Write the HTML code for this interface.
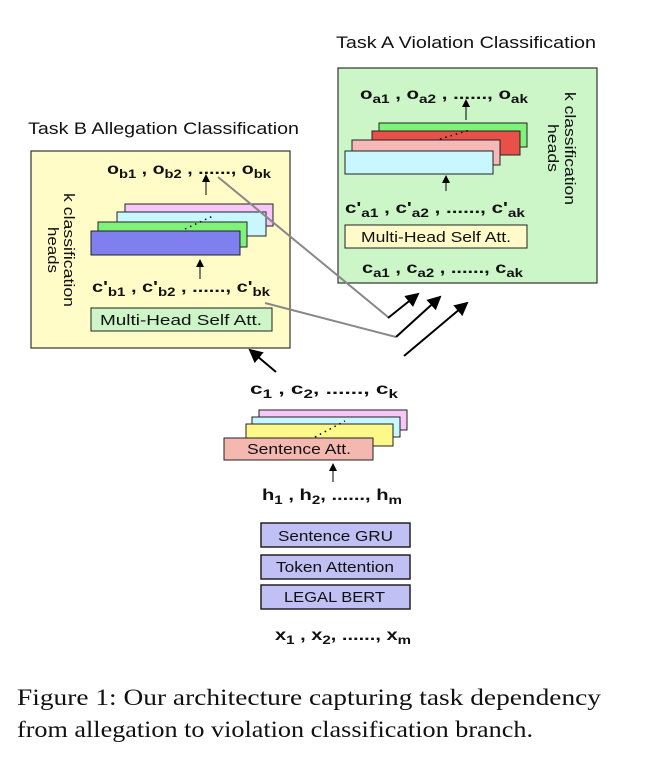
<!DOCTYPE html>
<html><head><meta charset="utf-8"><style>
html,body{margin:0;padding:0;background:#fff;}
svg{display:block;}
text{font-family:"Liberation Sans",sans-serif;fill:#111;}
.b{font-weight:bold;font-size:16px;}
.s{font-size:12px;font-weight:bold;}
.n{font-size:15px;}
.cap{font-family:"Liberation Serif",serif;font-size:23px;}
</style></head><body>
<svg width="652" height="774" viewBox="0 0 652 774" xmlns="http://www.w3.org/2000/svg">
<defs>
<marker id="ah" markerWidth="8" markerHeight="8" refX="6" refY="4" orient="auto" markerUnits="userSpaceOnUse"><path d="M0,0 L8,4 L0,8 z" fill="#000"/></marker>
<marker id="ahb" markerWidth="14" markerHeight="14" refX="12" refY="7" orient="auto" markerUnits="userSpaceOnUse"><path d="M0,0 L14,7 L0,14 z" fill="#000"/></marker>
</defs>

<text x="336" y="48" font-size="17" textLength="260" lengthAdjust="spacingAndGlyphs">Task A Violation Classification</text>
<text x="28" y="134" font-size="17" textLength="271" lengthAdjust="spacingAndGlyphs">Task B Allegation Classification</text>

<!-- Task A box -->
<rect x="338" y="68" width="259" height="215" fill="#ccf5c8" stroke="#333" stroke-width="1.2"/>
<text x="360" y="99" class="b" textLength="168" lengthAdjust="spacingAndGlyphs">o<tspan class="s" dy="4">a1</tspan><tspan dy="-4"> , o</tspan><tspan class="s" dy="4">a2</tspan><tspan dy="-4"> , ......, o</tspan><tspan class="s" dy="4">ak</tspan></text>
<rect x="379" y="123" width="148" height="24" fill="#7ff27a" stroke="#222"/>
<rect x="372" y="131" width="148" height="24" fill="#e85048" stroke="#222"/>
<rect x="352" y="140" width="148" height="25" fill="#f7b8b8" stroke="#222"/>
<rect x="345" y="151" width="148" height="23" fill="#c8f7ff" stroke="#222"/>
<line x1="440" y1="139" x2="470" y2="130" stroke="#000" stroke-width="1.5" stroke-dasharray="1.5,4"/>
<line x1="466" y1="120" x2="466" y2="101" stroke="#000" marker-end="url(#ah)"/>
<line x1="446" y1="191" x2="446" y2="177" stroke="#000" marker-end="url(#ah)"/>
<text x="345" y="213" class="b" textLength="180" lengthAdjust="spacingAndGlyphs">c'<tspan class="s" dy="4">a1</tspan><tspan dy="-4"> , c'</tspan><tspan class="s" dy="4">a2</tspan><tspan dy="-4"> , ......, c'</tspan><tspan class="s" dy="4">ak</tspan></text>
<rect x="345" y="225" width="182" height="23" fill="#fffbc8" stroke="#222"/>
<text x="361" y="242" class="n" textLength="150" lengthAdjust="spacingAndGlyphs">Multi-Head Self Att.</text>
<text x="362" y="273" class="b" textLength="161" lengthAdjust="spacingAndGlyphs">c<tspan class="s" dy="4">a1</tspan><tspan dy="-4"> , c</tspan><tspan class="s" dy="4">a2</tspan><tspan dy="-4"> , ......, c</tspan><tspan class="s" dy="4">ak</tspan></text>
<text transform="translate(565,92) rotate(90)" class="n" textLength="113" lengthAdjust="spacingAndGlyphs">k classification</text>
<text transform="translate(548,124) rotate(90)" class="n" textLength="48" lengthAdjust="spacingAndGlyphs">heads</text>

<!-- Task B box -->
<rect x="31" y="151" width="259" height="197" fill="#fffcc8" stroke="#333" stroke-width="1.2"/>
<text x="107" y="174" class="b" textLength="164" lengthAdjust="spacingAndGlyphs">o<tspan class="s" dy="4">b1</tspan><tspan dy="-4"> , o</tspan><tspan class="s" dy="4">b2</tspan><tspan dy="-4"> , ......, o</tspan><tspan class="s" dy="4">bk</tspan></text>
<rect x="125" y="204" width="148" height="22" fill="#f7c8f7" stroke="#222"/>
<rect x="117" y="212" width="149" height="24" fill="#c8f7ff" stroke="#222"/>
<rect x="98" y="222" width="149" height="25" fill="#7ff27a" stroke="#222"/>
<rect x="91" y="231" width="149" height="24" fill="#7f7fef" stroke="#222"/>
<line x1="185" y1="229" x2="213" y2="216" stroke="#000" stroke-width="1.5" stroke-dasharray="1.5,4"/>
<line x1="206" y1="195" x2="206" y2="176" stroke="#000" marker-end="url(#ah)"/>
<line x1="200" y1="279" x2="200" y2="261" stroke="#000" marker-end="url(#ah)"/>
<text x="92" y="292" class="b" textLength="178" lengthAdjust="spacingAndGlyphs">c'<tspan class="s" dy="4">b1</tspan><tspan dy="-4"> , c'</tspan><tspan class="s" dy="4">b2</tspan><tspan dy="-4"> , ......, c'</tspan><tspan class="s" dy="4">bk</tspan></text>
<rect x="91" y="308" width="181" height="23" fill="#cdf5c8" stroke="#222"/>
<text x="100" y="325" class="n" textLength="162" lengthAdjust="spacingAndGlyphs">Multi-Head Self Att.</text>
<text transform="translate(64,193) rotate(90)" class="n" textLength="114" lengthAdjust="spacingAndGlyphs">k classification</text>
<text transform="translate(48,227) rotate(90)" class="n" textLength="46" lengthAdjust="spacingAndGlyphs">heads</text>

<!-- connectors -->
<polyline points="218,177 388,317" fill="none" stroke="#888" stroke-width="2"/>
<polyline points="265,303 396,337" fill="none" stroke="#888" stroke-width="2"/>
<line x1="388" y1="318" x2="418" y2="294" stroke="#000" stroke-width="2" marker-end="url(#ahb)"/>
<line x1="396" y1="337" x2="440" y2="297" stroke="#000" stroke-width="2" marker-end="url(#ahb)"/>
<line x1="404" y1="356" x2="467" y2="303" stroke="#000" stroke-width="2" marker-end="url(#ahb)"/>
<line x1="276" y1="372" x2="250" y2="350" stroke="#000" stroke-width="2" marker-end="url(#ahb)"/>

<!-- bottom -->
<text x="250" y="394" class="b" textLength="148" lengthAdjust="spacingAndGlyphs">c<tspan class="s" dy="4">1</tspan><tspan dy="-4"> , c</tspan><tspan class="s" dy="4">2</tspan><tspan dy="-4">, ......, c</tspan><tspan class="s" dy="4">k</tspan></text>
<rect x="259" y="410" width="148" height="20" fill="#f7c8f7" stroke="#222"/>
<rect x="252" y="417" width="148" height="20" fill="#c8f7ff" stroke="#222"/>
<rect x="246" y="424" width="147" height="22" fill="#fcf88a" stroke="#222"/>
<rect x="224" y="438" width="149" height="22" fill="#f5b8b0" stroke="#222"/>
<line x1="315" y1="437" x2="345" y2="421" stroke="#000" stroke-width="1.5" stroke-dasharray="1.5,4"/>
<text x="247" y="454" class="n" textLength="104" lengthAdjust="spacingAndGlyphs">Sentence Att.</text>
<line x1="333" y1="482" x2="333" y2="465" stroke="#000" marker-end="url(#ah)"/>
<text x="262" y="500" class="b" textLength="140" lengthAdjust="spacingAndGlyphs">h<tspan class="s" dy="4">1</tspan><tspan dy="-4"> , h</tspan><tspan class="s" dy="4">2</tspan><tspan dy="-4">, ......, h</tspan><tspan class="s" dy="4">m</tspan></text>
<rect x="261" y="523" width="149" height="24" fill="#c0c0f5" stroke="#222" stroke-width="1.5"/>
<text x="278" y="541" class="n" textLength="115" lengthAdjust="spacingAndGlyphs">Sentence GRU</text>
<rect x="261" y="555" width="149" height="24" fill="#c0c0f5" stroke="#222" stroke-width="1.5"/>
<text x="276" y="572" class="n" textLength="118" lengthAdjust="spacingAndGlyphs">Token Attention</text>
<rect x="261" y="585" width="149" height="24" fill="#c0c0f5" stroke="#222" stroke-width="1.5"/>
<text x="284" y="602" class="n" textLength="101" lengthAdjust="spacingAndGlyphs">LEGAL BERT</text>
<text x="275" y="640" class="b" textLength="136" lengthAdjust="spacingAndGlyphs">x<tspan class="s" dy="4">1</tspan><tspan dy="-4"> , x</tspan><tspan class="s" dy="4">2</tspan><tspan dy="-4">, ......, x</tspan><tspan class="s" dy="4">m</tspan></text>

<!-- caption -->
<text x="17" y="705" class="cap" textLength="584" lengthAdjust="spacingAndGlyphs">Figure 1:  Our architecture capturing task dependency</text>
<text x="17" y="737" class="cap" textLength="516" lengthAdjust="spacingAndGlyphs">from allegation to violation classification branch.</text>
</svg>
</body></html>
